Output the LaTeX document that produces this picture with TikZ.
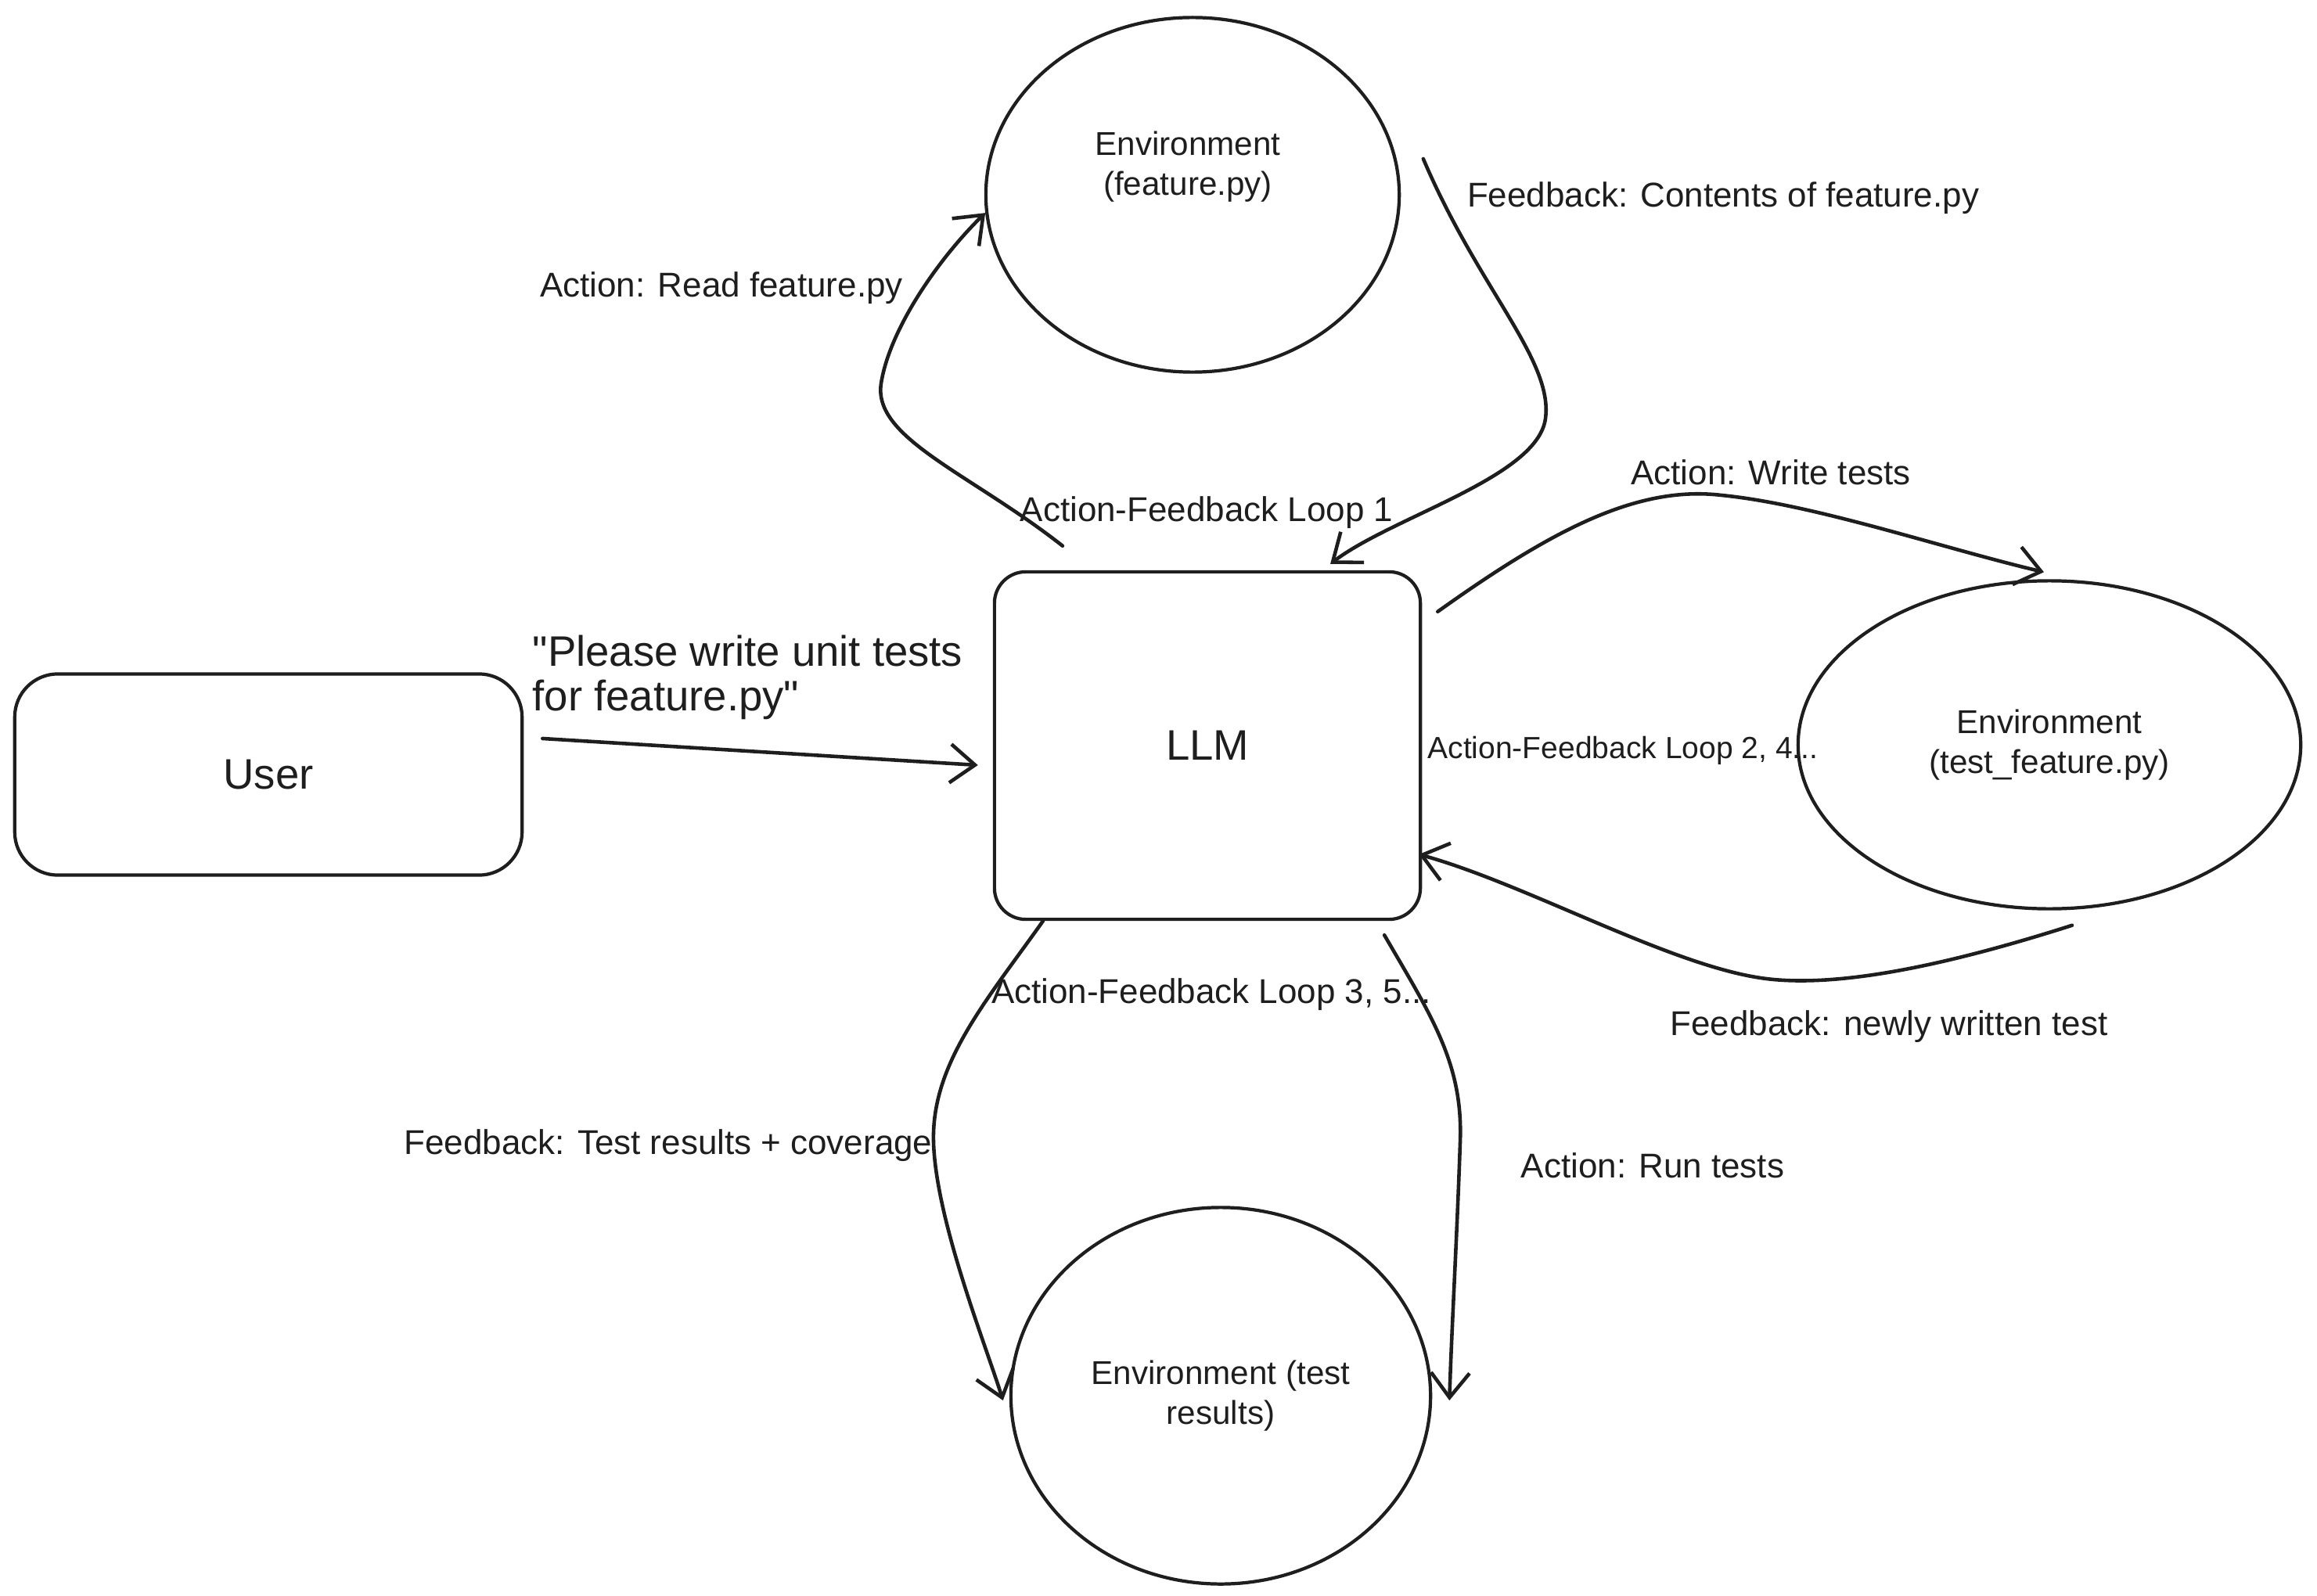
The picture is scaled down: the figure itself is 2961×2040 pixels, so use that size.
\documentclass[tikz,border=0pt]{standalone}
\usepackage{fontspec}
\setmainfont{Liberation Sans}[Ligatures=TeXOff]
\usetikzlibrary{arrows.meta,shapes.geometric}
\definecolor{ink}{HTML}{1E1E1E}
\begin{document}
\begin{tikzpicture}[x=0.01cm,y=-0.01cm,
  boxnode/.style={draw=ink, line width=1.2pt, rectangle, inner sep=0pt},
  envnode/.style={draw=ink, line width=1.2pt, ellipse, inner sep=0pt},
  arr/.style={draw=ink, line width=1.3pt, line cap=round,
    -{Straight Barb[length=9pt,width=14pt,line width=1.3pt]}},
  lbl/.style={font=\fontsize{12.5}{15}\selectfont, text=ink, inner sep=0pt},
  smalllbl/.style={font=\fontsize{11.1}{13}\selectfont, text=ink, inner sep=0pt},
  envlbl/.style={font=\fontsize{12}{14.5}\selectfont, text=ink, align=center, inner sep=0pt},
  biglbl/.style={font=\fontsize{15.5}{16}\selectfont, text=ink, inner sep=0pt}]
\fill[white] (0,0) rectangle (2961,2040);
\useasboundingbox (0,0) rectangle (2961,2040);

% nodes
\node[boxnode, rounded corners=0.55cm, minimum width=6.48cm, minimum height=2.57cm,
      biglbl] (user) at (343,990) {User};
\node[boxnode, rounded corners=0.4cm, minimum width=5.44cm, minimum height=4.44cm,
      biglbl] (llm) at (1543,953) {LLM};
\node[envnode, minimum width=5.28cm, minimum height=4.53cm] (envA) at (1524,249) {};
\node[envlbl] (envAtext) at (1518,213) {Environment\\(feature.py)};
\node[envnode, minimum width=6.42cm, minimum height=4.19cm, envlbl] (envB) at (2619,952)
      {Environment\\(test\_feature.py)};
\node[envnode, minimum width=5.36cm, minimum height=4.81cm, envlbl] (envC) at (1560,1784)
      {Environment (test\\results)};

% user -> llm
\draw[arr] ([xshift=0.24cm,yshift=0.46cm]user.east) -- ([xshift=-0.19cm,yshift=-0.25cm]llm.west);
\node[biglbl, anchor=west, align=left] (quote) at (680,866)
  {"Please write unit tests\\for feature.py"};

% loop 1
\draw[arr] ([xshift=-1.85cm,yshift=0.31cm]llm.north)
  .. controls (1240,605) and (1115,560) .. (1126,490)
  .. controls (1137,420) and (1200,330) .. (envA.185);
\draw[arr] ([xshift=0.34cm]envA.10)
  .. controls (1890,370) and (1985,460) .. (1975,535)
  .. controls (1965,610) and (1780,660) .. ([xshift=1.57cm,yshift=0.08cm]llm.north);
\node[lbl] (l1a) at (922,368) {Action: Read feature.py};
\node[lbl] (l1b) at (2202,253) {Feedback: Contents of feature.py};
\node[lbl] (l1c) at (1542,655) {Action-Feedback Loop 1};

% loop 2
\draw[arr] ([xshift=0.2cm,yshift=-0.53cm]llm.north east)
  .. controls (1980,680) and (2090,620) .. (2200,633)
  .. controls (2320,645) and (2480,700) .. ([xshift=-0.07cm,yshift=0.09cm]envB.north);
\draw[arr] ([xshift=0.29cm,yshift=-0.19cm]envB.south)
  .. controls (2500,1230) and (2350,1265) .. (2250,1250)
  .. controls (2130,1232) and (1950,1130) .. ([xshift=-0.04cm,yshift=-1.39cm]llm.east);
\node[lbl] (l2a) at (2263,604) {Action: Write tests};
\node[lbl] (l2b) at (2414,1312) {Feedback: newly written test};
\node[smalllbl] (l2c) at (2074,959) {Action-Feedback Loop 2, 4...};

% loop 3
\draw[arr] ([xshift=-2.1cm]llm.south)
  .. controls (1260,1280) and (1190,1360) .. (1193,1460)
  .. controls (1196,1560) and (1260,1720) .. ([xshift=-0.08cm,yshift=-0.06cm]envC.west);
\draw[arr] ([xshift=2.26cm,yshift=-0.18cm]llm.south)
  .. controls (1830,1300) and (1870,1360) .. (1866,1460)
  .. controls (1862,1580) and (1855,1700) .. ([xshift=0.22cm,yshift=-0.06cm]envC.east);
\node[lbl] (l3a) at (854,1464) {Feedback: Test results + coverage};
\node[lbl] (l3b) at (2112,1490) {Action: Run tests};
\node[lbl] (l3c) at (1548,1271) {Action-Feedback Loop 3, 5...};
\end{tikzpicture}
\end{document}
